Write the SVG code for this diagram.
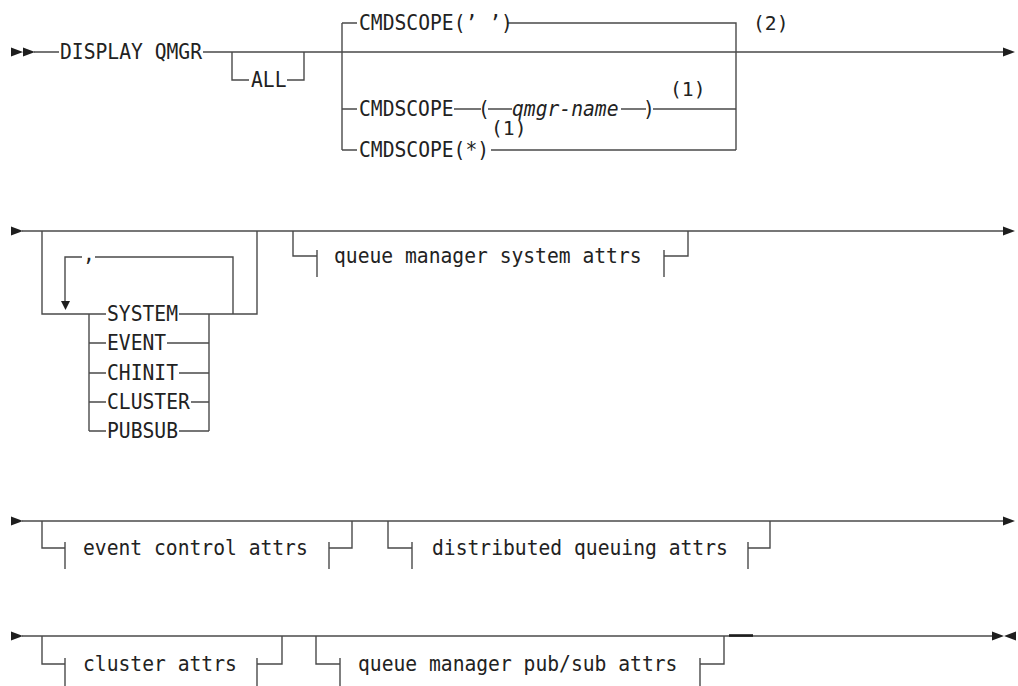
<svg xmlns="http://www.w3.org/2000/svg" width="1018" height="686" viewBox="0 0 1018 686">
<style>
.l{fill:none;stroke:#4a4a4a;stroke-width:1.4}
.t{font-family:"DejaVu Sans Mono","Liberation Mono",monospace;font-size:21.5px;fill:#222}
.n{font-family:"DejaVu Sans Mono","Liberation Mono",monospace;font-size:19.5px;fill:#222}
.i{font-style:italic}
.a{fill:#1e1e1e}
</style>
<rect width="1018" height="686" fill="#fff"/>
<g id="connectors">
<path class="l" d="M34,52 H59 M203,52 H1004"/>
<path class="l" d="M232,52 V80 H249 M287,80 H304 V52"/>
<path class="l" d="M342,23 V150 M342,23 H357 M507,23 H736 V150"/>
<path class="l" d="M342,109 H357 M454,109 H481 M488,109 H512 M621,109 H646 M653,109 H736"/>
<path class="l" d="M342,150 H357 M491,150 H736"/>
<path class="l" d="M22,231 H1004"/>
<path class="l" d="M42,231 V314 H106 M209,314 H257 V231"/>
<path class="l" d="M89,314 V431 M209,314 V431"/>
<path class="l" d="M89,343 H106 M89,373 H106 M89,402 H106 M89,431 H106"/>
<path class="l" d="M179,314 H209 M167,343 H209 M179,373 H209 M191,402 H209 M179,431 H209"/>
<path class="l" d="M233,314 V257 H95 M82,257 H65 V302"/>
<path class="l" d="M293,231 V256 H317 M317,250 V277 M664,250 V277 M664,256 H688 V231"/>
<path class="l" d="M22,521 H1004"/>
<path class="l" d="M42,521 V548 H65 M65,542 V569 M329,542 V569 M329,548 H352 V521"/>
<path class="l" d="M388,521 V548 H412 M412,542 V569 M748,542 V569 M748,548 H770 V521"/>
<path class="l" d="M22,636 H993"/>
<path class="l" d="M42,636 V664 H65 M65,658 V686 M257,658 V686 M257,664 H282 V636"/>
<path class="l" d="M316,636 V664 H340 M340,658 V686 M700,658 V686 M700,664 H724 V636"/>
<path d="M729,635.5 H753" stroke="#1e1e1e" stroke-width="2.6" fill="none"/>
<path class="a" d="M11,47.5 L23,52 L11,56.5 Z M23,47.5 L35,52 L23,56.5 Z"/>
<path class="a" d="M1003,47.5 L1015,52 L1003,56.5 Z"/>
<path class="a" d="M11,226.5 L23,231 L11,235.5 Z"/>
<path class="a" d="M1003,226.5 L1015,231 L1003,235.5 Z"/>
<path class="a" d="M61,301 L70,301 L65.5,310 Z"/>
<path class="a" d="M11,516.5 L23,521 L11,525.5 Z"/>
<path class="a" d="M1003,516.5 L1015,521 L1003,525.5 Z"/>
<path class="a" d="M11,631.5 L23,636 L11,640.5 Z"/>
<path class="a" d="M992,631.5 L1004,636 L992,640.5 Z M1016,631.5 L1004,636 L1016,640.5 Z"/>
</g>
<g id="display-qmgr"><text class="t" x="60" y="59" textLength="142" lengthAdjust="spacingAndGlyphs">DISPLAY QMGR</text></g>
<g id="all"><text class="t" x="251" y="87" textLength="35.5" lengthAdjust="spacingAndGlyphs">ALL</text></g>
<g id="cmdscope-blank"><text class="t" x="359" y="30" textLength="153.8" lengthAdjust="spacingAndGlyphs">CMDSCOPE(’ ’)</text></g>
<g id="note2"><text class="n" x="753" y="30" textLength="35.5" lengthAdjust="spacingAndGlyphs">(2)</text></g>
<g id="cmdscope-qmgr">
<text class="t" x="359" y="116" textLength="94.6" lengthAdjust="spacingAndGlyphs">CMDSCOPE</text>
<text class="t" x="478" y="116" textLength="11.8" lengthAdjust="spacingAndGlyphs">(</text>
<text class="t i" x="512" y="116" textLength="106.5" lengthAdjust="spacingAndGlyphs">qmgr-name</text>
<text class="t" x="643" y="116" textLength="11.8" lengthAdjust="spacingAndGlyphs">)</text>
<text class="n" x="670" y="96" textLength="35.5" lengthAdjust="spacingAndGlyphs">(1)</text>
</g>
<g id="cmdscope-star">
<text class="t" x="359" y="157" textLength="130.1" lengthAdjust="spacingAndGlyphs">CMDSCOPE(*)</text>
<text class="n" x="491" y="135" textLength="35.5" lengthAdjust="spacingAndGlyphs">(1)</text>
</g>
<g id="repeat-sep"><text class="t" x="83" y="261" textLength="11.8" lengthAdjust="spacingAndGlyphs">,</text></g>
<g id="opt-system"><text class="t" x="107" y="321" textLength="71" lengthAdjust="spacingAndGlyphs">SYSTEM</text></g>
<g id="opt-event"><text class="t" x="107" y="350" textLength="59.2" lengthAdjust="spacingAndGlyphs">EVENT</text></g>
<g id="opt-chinit"><text class="t" x="107" y="380" textLength="71" lengthAdjust="spacingAndGlyphs">CHINIT</text></g>
<g id="opt-cluster"><text class="t" x="107" y="409" textLength="82.8" lengthAdjust="spacingAndGlyphs">CLUSTER</text></g>
<g id="opt-pubsub"><text class="t" x="107" y="438" textLength="71" lengthAdjust="spacingAndGlyphs">PUBSUB</text></g>
<g id="frag-qmgr-system"><text class="t" x="334" y="263" textLength="307.6" lengthAdjust="spacingAndGlyphs">queue manager system attrs</text></g>
<g id="frag-event-control"><text class="t" x="83" y="555" textLength="224.8" lengthAdjust="spacingAndGlyphs">event control attrs</text></g>
<g id="frag-distributed-queuing"><text class="t" x="432" y="555" textLength="295.8" lengthAdjust="spacingAndGlyphs">distributed queuing attrs</text></g>
<g id="frag-cluster"><text class="t" x="83" y="671" textLength="153.8" lengthAdjust="spacingAndGlyphs">cluster attrs</text></g>
<g id="frag-qmgr-pubsub"><text class="t" x="358" y="671" textLength="319.4" lengthAdjust="spacingAndGlyphs">queue manager pub/sub attrs</text></g>
</svg>
